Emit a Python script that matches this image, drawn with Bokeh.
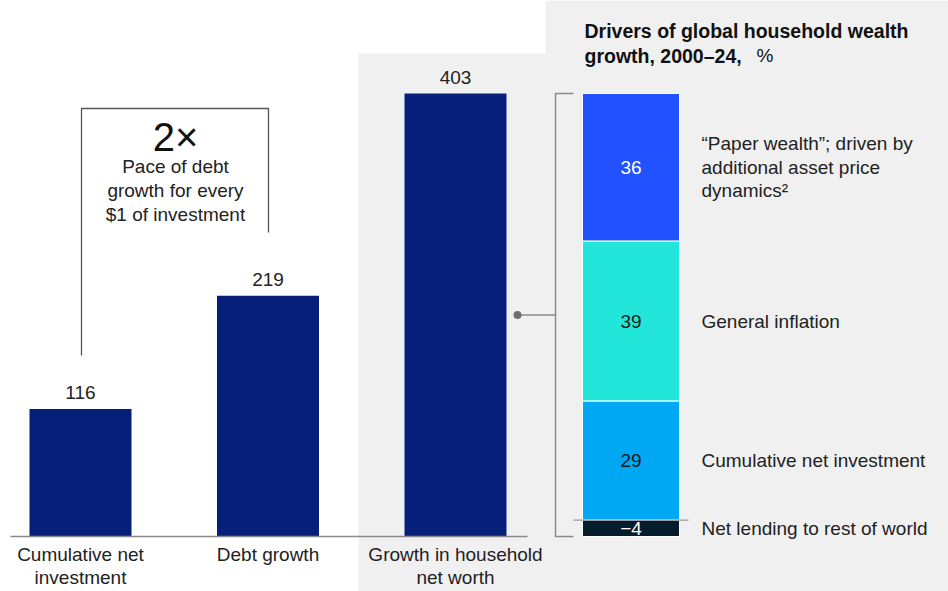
from bokeh.plotting import figure
from bokeh.models import Range1d
from bokeh.core.properties import value
from bokeh.embed import file_html
from bokeh.resources import INLINE

# ---------------- data ----------------
categories = ["Cumulative net\ninvestment", "Debt growth", "Growth in household\nnet worth"]
values = [116, 219, 403]

# listed top to bottom as in the stacked bar
drivers = ["\u201cPaper wealth\u201d; driven by\nadditional asset price\ndynamics\u00b2",
           "General inflation", "Cumulative net investment", "Net lending to rest of world"]
driver_values = [36, 39, 29, -4]
driver_colors = ["#2251FF", "#22E6D9", "#00A8F4", "#051C2C"]
driver_text_colors = ["white", "#1a1a1a", "#1a1a1a", "white"]

title_bold = ["Drivers of global household wealth", "growth, 2000\u201324,"]
title_unit = "%"
callout_big = "2\u00d7"
callout_text = ["Pace of debt", "growth for every", "$1 of investment"]

FONT = "Liberation Sans"
TXT = "#222222"
GREY_BG = "#F0F0F0"
LINE = "#8a8a8a"

# ---------------- layout (image pixels) ----------------
W, H = 948, 591
OX, OY = 0, 0
BASE = 536               # baseline pixel
TOP = 93                 # top of tallest bar pixel
k = (BASE - TOP) / max(values)                       # px per unit (main)
tot = sum(v for v in driver_values if v > 0) - min(driver_values)
k2 = (BASE - TOP) / tot                              # px per unit (drivers)
neg = min(driver_values)

def Y(py):   # image pixel -> main data units
    return (BASE - py) / k

p = figure(width=W, height=H, output_backend="svg", toolbar_location=None,
           x_range=Range1d(OX, OX + W),
           y_range=Range1d(-(OY + H - BASE) / k, (BASE - OY) / k),
           min_border=0, outline_line_color=None, background_fill_color="white",
           border_fill_color="white")
p.extra_y_ranges = {"drv": Range1d(neg - (OY + H - BASE) / k2, neg + (BASE - OY) / k2)}
p.axis.visible = False
p.grid.visible = False

# grey panels
p.quad(left=[358, 545], right=[OX + W, OX + W], bottom=[Y(OY + H), Y(53)], top=[Y(53), Y(OY)],
       fill_color=GREY_BG, line_color=None)

# main bars
xc = [80, 267.5, 455]
bw = 102
p.vbar(x=xc, top=values, bottom=0, width=bw, fill_color="#061F79", line_color=None)

# baseline
p.segment(x0=[10], y0=[0], x1=[527], y1=[0], line_color=LINE, line_width=1.5)

# value labels
p.text(x=xc, y=values, text=[str(v) for v in values], text_align="center",
       text_baseline="alphabetic", y_offset=-16, text_font=value(FONT),
       text_font_size="19px", text_color=TXT)

# category labels
lx, ly, lt = [], [], []
for x, c in zip(xc, categories):
    for i, line in enumerate(c.split("\n")):
        lx.append(x); ly.append(Y(554 + 23 * i)); lt.append(line)
p.text(x=lx, y=ly, text=lt, text_align="center", text_baseline="middle",
       text_font=value(FONT), text_font_size="19px", text_color=TXT)

# left callout bracket
p.line(x=[81, 81, 268, 268], y=[Y(355), Y(108), Y(108), Y(232)], line_color="#555555",
       line_width=1.3)
p.text(x=[175], y=[Y(136)], text=[callout_big], text_align="center", text_baseline="middle",
       text_font=value(FONT), text_font_size="40px", text_color="#111111")
p.text(x=[175] * 3, y=[Y(166), Y(190), Y(213.5)], text=callout_text, text_align="center",
       text_baseline="middle", text_font=value(FONT), text_font_size="19px", text_color=TXT)

# stacked drivers bar: positives stacked upward from the last listed, negative below zero
bottoms = [0.0] * len(driver_values)
tops = [0.0] * len(driver_values)
pos = 0
for i in reversed(range(len(driver_values))):
    v = driver_values[i]
    if v >= 0:
        bottoms[i] = pos; tops[i] = pos + v; pos += v
    else:
        bottoms[i] = v; tops[i] = 0
sx = 630.5
p.vbar(x=[sx] * 4, bottom=bottoms, top=tops, width=97, fill_color=driver_colors,
       line_color="white", line_width=1, y_range_name="drv")
mids = [(b + t) / 2 for b, t in zip(bottoms, tops)]
p.text(x=[sx] * 4, y=mids, text=[str(v).replace("-", "\u2212") for v in driver_values],
       text_color=driver_text_colors, text_align="center", text_baseline="middle",
       text_font=value(FONT), text_font_size="19px", y_range_name="drv")
# zero line for negative part
p.segment(x0=[573], x1=[688], y0=[0], y1=[0], line_color="#999999", line_width=1.3,
          y_range_name="drv")

# driver labels
dx, ys, dt = [], [], []
for m, d in zip(mids, drivers):
    lines = d.split("\n")
    n = len(lines)
    ypix = BASE - (m - neg) * k2
    for i, line in enumerate(lines):
        dx.append(701)
        ys.append(Y(ypix + (i - (n - 1) / 2) * 23.5))
        dt.append(line)
p.text(x=dx, y=ys, text=dt, text_align="left", text_baseline="middle",
       text_font=value(FONT), text_font_size="19px", text_color=TXT)

# right bracket
p.line(x=[573, 555, 555, 573], y=[values[-1], values[-1], 0, 0], line_color=LINE, line_width=1.5)
p.segment(x0=[517], x1=[555], y0=[values[-1] / 2], y1=[values[-1] / 2], line_color=LINE,
          line_width=1.5)
p.scatter(x=[517], y=[values[-1] / 2], size=8, fill_color="#6f6f6f", line_color=None)

# title
p.text(x=[584, 584], y=[Y(30), Y(55)], text=title_bold, text_align="left", text_baseline="middle",
       text_font=value(FONT), text_font_size="19.5px", text_font_style="bold", text_color="#111111")
p.text(x=[756], y=[Y(55)], text=[title_unit], text_align="left", text_baseline="middle",
       text_font=value(FONT), text_font_size="19px", text_color="#111111")

open("out.html", "w").write(file_html(p, INLINE))
